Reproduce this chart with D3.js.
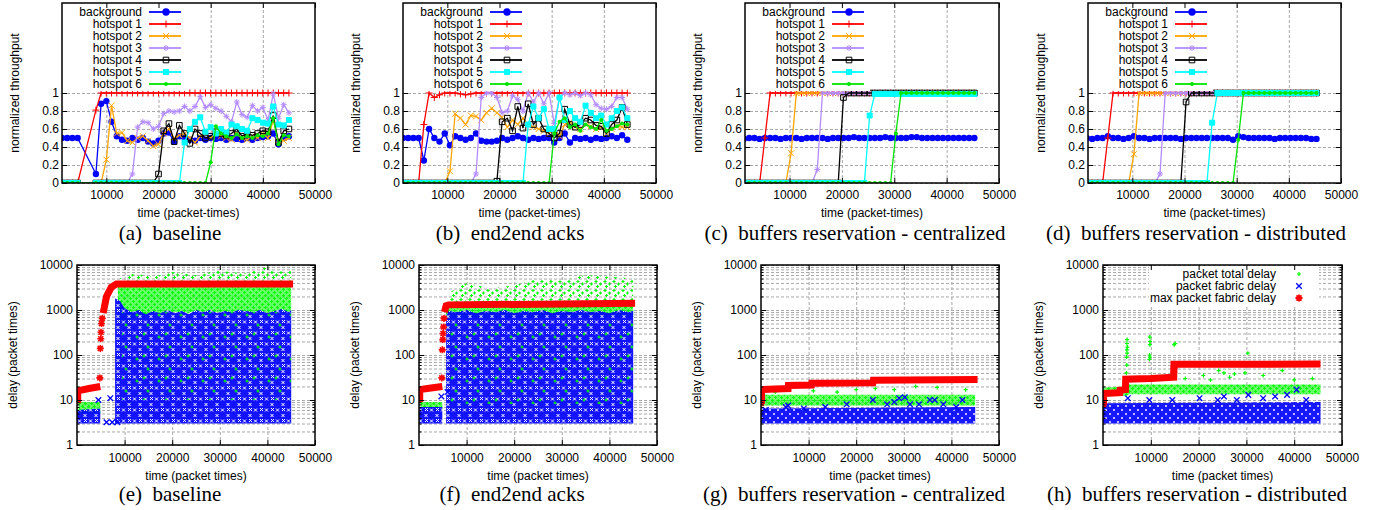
<!DOCTYPE html>
<html>
<head>
<meta charset="utf-8">
<script src="https://cdn.jsdelivr.net/npm/d3@7"></script>
<style>
  body { margin: 0; background: #fff; }
  svg { display: block; }
  .cap { font-family: "Liberation Serif", "Times New Roman", serif; font-size: 21px; white-space: pre; }
</style>
</head>
<body>
<svg id="chart" width="1380" height="510"></svg>
<script>
// ---------------- data ----------------
const X_TICKS = [10000, 20000, 30000, 40000, 50000];
const X_GRID = [10000, 20000, 30000, 40000];
const THR_TICKS = [0, 0.2, 0.4, 0.6, 0.8, 1];
const DELAY_TICKS = [1, 10, 100, 1000, 10000];
const HOT_NAMES = ['background', 'hotspot 1', 'hotspot 2', 'hotspot 3', 'hotspot 4', 'hotspot 5', 'hotspot 6'];
const DELAY_NAMES = ['packet total delay', 'packet fabric delay', 'max packet fabric delay'];
const CAPTIONS = ['(a)  baseline', '(b)  end2end acks', '(c)  buffers reservation - centralized',
  '(d)  buffers reservation - distributed', '(e)  baseline', '(f)  end2end acks',
  '(g)  buffers reservation - centralized', '(h)  buffers reservation - distributed'];

// (a) baseline throughput
const timeA = [1500, 2500, 3500, 4500, 8000, 9000, 10000, 11000, 12000, 13000, 14000, 15000, 16000, 17000,
  18000, 19000, 20000, 21000, 22000, 23000, 24000, 25000, 26000, 27000, 28000, 29000, 30000, 31000, 32000,
  33000, 34000, 35000, 36000, 37000, 38000, 39000, 40000, 41000, 42000, 43000, 44000, 45000];
const bgA = [0.5, 0.5, 0.5, 0.5, 0.1, 0.88, 0.91, 0.68, 0.52, 0.48, 0.47, 0.5, 0.48, 0.5,
  0.46, 0.44, 0.47, 0.55, 0.56, 0.46, 0.52, 0.5, 0.48, 0.47, 0.5, 0.48, 0.5, 0.49, 0.5, 0.48,
  0.5, 0.49, 0.48, 0.5, 0.48, 0.5, 0.51, 0.52, 0.55, 0.43, 0.5, 0.52];
const hs1A = [0, 0, 0, 0, 0.81, 1, 1, 1, 1, 1, 1, 1, 1, 1, 1, 1, 1, 1, 1, 1, 1, 1, 1, 1, 1, 1, 1, 1, 1, 1,
  1, 1, 1, 1, 1, 1, 1, 1, 1, 1, 1, 1];
const hs2A = [0, 0, 0, 0, 0, 0, 0.26, 0.86, 0.55, 0.56, 0.47, 0.45, 0.5, 0.52, 0.47, 0.41,
  0.43, 0.55, 0.6, 0.5, 0.53, 0.55, 0.5, 0.45, 0.52, 0.55, 0.5, 0.55, 0.52, 0.5, 0.48, 0.55, 0.5, 0.48,
  0.52, 0.5, 0.55, 0.5, 0.7, 0.47, 0.47, 0.5];
const hs3A = [0, 0, 0, 0, 0, 0, 0, 0, 0, 0, 0, 0.1, 0.62, 0.68, 0.67, 0.6, 0.63, 0.77, 0.8, 0.79, 0.8, 0.85,
  0.8, 0.85, 0.96, 0.84, 0.87, 0.83, 0.8, 0.74, 0.68, 0.9, 0.76, 0.73, 0.86, 0.8, 0.84, 0.7, 0.99, 0.72,
  0.87, 0.78];
const hs4A = [0, 0, 0, 0, 0, 0, 0, 0, 0, 0, 0, 0, 0, 0, 0, 0, 0.1, 0.58, 0.66, 0.46, 0.64, 0.55, 0.44, 0.6,
  0.55, 0.5, 0.52, 0.57, 0.55, 0.53, 0.55, 0.6, 0.52, 0.55, 0.53, 0.55, 0.58, 0.57, 0.75, 0.45, 0.58, 0.6];
const hs5A = [0, 0, 0, 0, 0, 0, 0, 0, 0, 0, 0, 0, 0, 0, 0, 0, 0, 0, 0, 0, 0, 0.45, 0.6, 0.68, 0.73, 0.57,
  0.62, 0.55, 0.6, 0.56, 0.65, 0.63, 0.6, 0.58, 0.72, 0.7, 0.67, 0.66, 0.85, 0.65, 0.64, 0.7];
const hs6A = [0, 0, 0, 0, 0, 0, 0, 0, 0, 0, 0, 0, 0, 0, 0, 0, 0, 0, 0, 0, 0, 0, 0, 0, 0, 0, 0.23, 0.63,
  0.55, 0.52, 0.5, 0.54, 0.5, 0.52, 0.5, 0.53, 0.52, 0.55, 0.72, 0.43, 0.53, 0.52];

// (b) end2end acks throughput
const timeB = [1500, 2500, 3500, 4500, 5500, 6500, 7500, 8500, 9500, 10500, 11500, 12500, 13500, 14500,
  15500, 16500, 17500, 18500, 19500, 20500, 21500, 22500, 23500, 24500, 25500, 26500, 27500, 28500, 29500,
  30500, 31500, 32500, 33500, 34500, 35500, 36500, 37500, 38500, 39500, 40500, 41500, 42500, 43500, 44500];
const bgB = [0.5, 0.5, 0.5, 0.5, 0.25, 0.6, 0.5, 0.46, 0.55, 0.42, 0.52, 0.5, 0.48, 0.5, 0.55, 0.47, 0.46,
  0.46, 0.47, 0.5, 0.48, 0.5, 0.52, 0.5, 0.48, 0.5, 0.49, 0.5, 0.5, 0.45, 0.5, 0.55, 0.45, 0.5, 0.49, 0.5,
  0.48, 0.5, 0.49, 0.5, 0.52, 0.5, 0.53, 0.48];
const hs1B = [0, 0, 0, 0, 0.65, 1, 0.95, 0.98, 1, 1, 1, 0.99, 0.98, 0.99, 1, 1, 1, 1, 1, 1, 1, 1, 1, 1, 1,
  1, 1, 1, 1, 1, 1, 1, 1, 1, 1, 1, 1, 1, 1, 1, 1, 1, 1, 1];
const hs2B = [0, 0, 0, 0, 0, 0, 0, 0, 0, 0.13, 0.77, 0.72, 0.65, 0.75, 0.74, 0.7, 0.78, 0.83, 0.78, 0.73,
  0.62, 0.7, 0.65, 0.72, 0.65, 0.62, 0.6, 0.58, 0.55, 0.6, 0.52, 0.65, 0.68, 0.62, 0.6, 0.65, 0.63, 0.6,
  0.62, 0.55, 0.6, 0.63, 0.62, 0.62];
const hs3B = [0, 0, 0, 0, 0, 0, 0, 0, 0, 0, 0, 0, 0, 0, 0.1, 0.95, 1, 1, 0.95, 0.78, 0.8, 0.97, 0.93, 0.8,
  1, 0.9, 1, 0.88, 1, 0.66, 0.95, 1, 0.98, 1, 0.97, 1, 0.98, 0.87, 0.83, 0.82, 0.85, 0.95, 0.95, 0.82];
const hs4B = [0, 0, 0, 0, 0, 0, 0, 0, 0, 0, 0, 0, 0, 0, 0, 0, 0, 0, 0.02, 0.68, 0.72, 0.58, 0.85, 0.61,
  0.88, 0.65, 0.72, 0.6, 0.55, 0.5, 0.55, 0.82, 0.65, 0.62, 0.65, 0.72, 0.7, 0.64, 0.63, 0.55, 0.65, 0.7,
  0.84, 0.65];
const hs5B = [0, 0, 0, 0, 0, 0, 0, 0, 0, 0, 0, 0, 0, 0, 0, 0, 0, 0, 0, 0, 0, 0, 0, 0, 0.65, 0.85, 0.72,
  0.82, 0.6, 0.6, 0.95, 0.7, 0.8, 0.72, 0.68, 0.86, 0.78, 0.72, 0.75, 0.65, 0.72, 0.8, 0.84, 0.72];
const hs6B = [0, 0, 0, 0, 0, 0, 0, 0, 0, 0, 0, 0, 0, 0, 0, 0, 0, 0, 0, 0, 0, 0, 0, 0, 0, 0, 0, 0, 0, 0.55,
  0.68, 0.72, 0.62, 0.65, 0.58, 0.65, 0.62, 0.6, 0.7, 0.58, 0.6, 0.63, 0.66, 0.65];

// (c) centralized reservation throughput
const timeC = [1300, 2300, 3300, 4300, 5300, 6300, 7300, 8300, 9300, 10300, 11300, 12300, 13300, 14300,
  15300, 16300, 17300, 18300, 19300, 20300, 21300, 22300, 23300, 24300, 25300, 26300, 27300, 28300, 29300,
  30300, 31300, 32300, 33300, 34300, 35300, 36300, 37300, 38300, 39300, 40300, 41300, 42300, 43300, 44300,
  45300];
const bgC = [0.49, 0.5, 0.5, 0.49, 0.5, 0.5, 0.5, 0.49, 0.5, 0.5, 0.5, 0.49, 0.5, 0.5, 0.5, 0.5, 0.49, 0.5,
  0.5, 0.5, 0.5, 0.51, 0.5, 0.5, 0.5, 0.5, 0.5, 0.51, 0.5, 0.5, 0.5, 0.5, 0.51, 0.51, 0.5, 0.5, 0.5, 0.5,
  0.5, 0.5, 0.5, 0.5, 0.5, 0.5, 0.5];
const hs1C = [0, 0, 0, 0, 0.5, 1, 1, 1, 1, 1, 1, 1, 1, 1, 1, 1, 1, 1, 1, 1, 1, 1, 1, 1, 1, 1, 1, 1, 1, 1,
  1, 1, 1, 1, 1, 1, 1, 1, 1, 1, 1, 1, 1, 1, 1];
const hs2C = [0, 0, 0, 0, 0, 0, 0, 0, 0, 0.33, 1, 1, 1, 1, 1, 1, 1, 1, 1, 1, 1, 1, 1, 1, 1, 1, 1, 1, 1, 1,
  1, 1, 1, 1, 1, 1, 1, 1, 1, 1, 1, 1, 1, 1, 1];
const hs3C = [0, 0, 0, 0, 0, 0, 0, 0, 0, 0, 0, 0, 0, 0, 0.15, 1, 1, 1, 1, 1, 1, 1, 1, 1, 1, 1, 1, 1, 1, 1,
  1, 1, 1, 1, 1, 1, 1, 1, 1, 1, 1, 1, 1, 1, 1];
const hs4C = [0, 0, 0, 0, 0, 0, 0, 0, 0, 0, 0, 0, 0, 0, 0, 0, 0, 0, 0, 0.95, 1, 1, 1, 1, 1, 1, 1, 1, 1, 1,
  1, 1, 1, 1, 1, 1, 1, 1, 1, 1, 1, 1, 1, 1, 1];
const hs5C = [0, 0, 0, 0, 0, 0, 0, 0, 0, 0, 0, 0, 0, 0, 0, 0, 0, 0, 0, 0, 0, 0, 0, 0, 0.75, 0.99, 0.99,
  0.99, 0.99, 0.99, 0.99, 0.99, 0.99, 0.99, 0.99, 0.99, 0.99, 0.99, 0.99, 0.99, 0.99, 0.99, 0.99, 0.99, 0.99];
const hs6C = [0, 0, 0, 0, 0, 0, 0, 0, 0, 0, 0, 0, 0, 0, 0, 0, 0, 0, 0, 0, 0, 0, 0, 0, 0, 0, 0, 0, 0, 0.55,
  1, 1, 1, 1, 1, 1, 1, 1, 1, 1, 1, 1, 1, 1, 1];

// (d) distributed reservation throughput
const timeD = timeC;
const bgD = [0.5, 0.49, 0.5, 0.5, 0.52, 0.5, 0.5, 0.49, 0.5, 0.52, 0.5, 0.5, 0.49, 0.5, 0.5, 0.5, 0.5, 0.5,
  0.49, 0.5, 0.5, 0.5, 0.5, 0.5, 0.5, 0.5, 0.5, 0.5, 0.48, 0.52, 0.51, 0.5, 0.5, 0.5, 0.5, 0.5, 0.49, 0.5,
  0.5, 0.5, 0.5, 0.5, 0.5, 0.49, 0.49];
const hs1D = [0, 0, 0, 0, 0.5, 1, 1, 1, 1, 1, 1, 1, 1, 1, 1, 1, 1, 1, 1, 1, 1, 1, 1, 1, 1, 1, 1, 1, 1, 1,
  1, 1, 1, 1, 1, 1, 1, 1, 1, 1, 1, 1, 1, 1, 1];
const hs2D = [0, 0, 0, 0, 0, 0, 0, 0, 0, 0.32, 1, 1, 1, 1, 1, 1, 1, 1, 1, 1, 1, 1, 1, 1, 1, 1, 1, 1, 1, 1,
  1, 1, 1, 1, 1, 1, 1, 1, 1, 1, 1, 1, 1, 1, 1];
const hs3D = [0, 0, 0, 0, 0, 0, 0, 0, 0, 0, 0, 0, 0, 0, 0.1, 1, 1, 1, 1, 1, 1, 1, 1, 1, 1, 1, 1, 1, 1, 1,
  1, 1, 1, 1, 1, 1, 1, 1, 1, 1, 1, 1, 1, 1, 1];
const hs4D = [0, 0, 0, 0, 0, 0, 0, 0, 0, 0, 0, 0, 0, 0, 0, 0, 0, 0, 0, 0.9, 1, 1, 1, 1, 1, 1, 1, 1, 1, 1,
  1, 1, 1, 1, 1, 1, 1, 1, 1, 1, 1, 1, 1, 1, 1];
const hs5D = [0, 0, 0, 0, 0, 0, 0, 0, 0, 0, 0, 0, 0, 0, 0, 0, 0, 0, 0, 0, 0, 0, 0, 0, 0.67, 1, 1, 1, 1, 1,
  1, 1, 1, 1, 1, 1, 1, 1, 1, 1, 1, 1, 1, 1, 1];
const hs6D = [0, 0, 0, 0, 0, 0, 0, 0, 0, 0, 0, 0, 0, 0, 0, 0, 0, 0, 0, 0, 0, 0, 0, 0, 0, 0, 0, 0, 0, 0.48,
  1, 1, 1, 1, 1, 1, 1, 1, 1, 1, 1, 1, 1, 1, 1];

// delay clouds: bands are [time, low, high]; points are [time, delay]
const delayE_totalDense = [[[300, 5, 9], [4900, 5, 9]],
  [[8600, 500, 3400], [10000, 500, 3400], [12000, 700, 3400], [15000, 800, 3400], [20000, 900, 3400],
    [30000, 900, 3400], [45000, 850, 3400]]];
const delayE_totalSparse = [[[9000, 3400, 5000], [12000, 3400, 6500], [16000, 3400, 5500], [20000, 3400, 7000],
  [25000, 3400, 6000], [30000, 3400, 7500], [35000, 3400, 6500], [40000, 3400, 9000], [42000, 3400, 7000],
  [45000, 3400, 8000]]];
const delayE_totalInside = [[[9500, 10, 900], [45000, 10, 900]]];
const delayE_fabric = [[[0, 3, 6], [4900, 3, 6.5]],
  [[8000, 3, 1800], [9000, 3, 1600], [10000, 3, 1100], [11500, 3, 900], [13000, 3, 1000], [14500, 3, 800],
    [16000, 3, 950], [17500, 3, 850], [19000, 3, 1000], [20500, 3, 850], [22000, 3, 950], [23500, 3, 800],
    [25000, 3, 1000], [26500, 3, 900], [28000, 3, 1000], [29500, 3, 850], [31000, 3, 950], [32500, 3, 900],
    [34000, 3, 1000], [35500, 3, 950], [37000, 3, 900], [38500, 3, 1000], [40000, 3, 850], [41500, 3, 950],
    [43000, 3, 1050], [44500, 3, 900], [45000, 3, 1000]]];
const delayE_fabricPts = [[4500, 10], [6200, 3.2], [7000, 11], [7400, 3.2], [8500, 3.2]];
const delayE_max = [[[150, 8.5], [150, 16], [2500, 18], [4900, 20]],
  [[5500, 850], [6200, 2000], [7200, 3200], [8300, 3800], [45400, 3800]]];
const delayE_maxPts = [[4800, 31], [4900, 140], [5000, 230], [5050, 320], [5150, 500], [5300, 650]];

const delayF_totalDense = [[[300, 6, 9], [4900, 6, 9]], [[5700, 650, 1250], [45000, 700, 1250]]];
const delayF_totalSparse = [[[6500, 1500, 2500], [10000, 1500, 4000], [15000, 1500, 3000], [20000, 1500, 3500],
  [25000, 1500, 5000], [30000, 1500, 4500], [35000, 1500, 6000], [40000, 1500, 5500], [45000, 1500, 5000]]];
const delayF_totalInside = [[[6000, 8, 700], [45000, 8, 700]]];
const delayF_fabric = [[[0, 3, 7], [4900, 3, 7]],
  [[5700, 3, 700], [6200, 3, 950], [8000, 3, 900], [10000, 3, 1000], [12000, 3, 850], [14000, 3, 950],
    [16000, 3, 900], [18000, 3, 1000], [20000, 3, 850], [22000, 3, 950], [24000, 3, 900], [26000, 3, 1000],
    [28000, 3, 850], [30000, 3, 950], [32000, 3, 900], [34000, 3, 1000], [36000, 3, 900], [38000, 3, 950],
    [40000, 3, 850], [42000, 3, 1000], [44000, 3, 900], [45000, 3, 950]]];
const delayF_fabricPts = [[4700, 12], [6000, 15]];
const delayF_max = [[[150, 9], [150, 17], [2500, 18.5], [4900, 20]],
  [[5350, 900], [5700, 1250], [6200, 1300], [25000, 1350], [45400, 1420]]];
const delayF_maxPts = [[4800, 31], [4900, 130], [5000, 220], [5050, 300], [5150, 420], [5250, 650]];

const delayG_total = [[[0, 7.5, 13], [45000, 7.5, 13]]];
const delayG_totalPts = [[3000, 15], [11000, 16], [16000, 15], [20000, 17], [24000, 18], [28000, 17],
  [32500, 20], [37000, 19], [43000, 17]];
const delayG_fabric = [[[0, 3, 6.5], [45000, 3, 7]]];
const delayG_fabricPts = [[1000, 6], [5200, 7], [5700, 7.5], [9000, 6.5], [13500, 7], [18000, 8],
  [23500, 10], [26500, 8], [28000, 9], [29000, 11], [30200, 11.5], [31300, 8], [33200, 8], [35500, 10],
  [36500, 10], [38300, 8], [41000, 7], [42300, 10]];
const delayG_max = [[[100, 8.5], [100, 17], [5700, 18], [5750, 21], [10600, 21.5], [10650, 23.5],
  [23500, 24], [23600, 27.5], [45500, 28.5]]];
const delayG_maxPts = [[100, 8.5], [100, 15]];

const delayH_total = [[[0, 12, 19], [5000, 12.5, 20], [5500, 13.5, 22], [45500, 13.5, 22]]];
const delayH_totalPts = [[4900, 40], [5000, 60], [4950, 90], [5050, 110], [5000, 130], [5100, 150],
  [5000, 180], [5050, 220], [9700, 80], [9800, 90], [9750, 100], [9800, 170], [9850, 200], [9800, 250],
  [14900, 170], [15100, 180], [17200, 30], [21000, 35], [22500, 28], [24200, 45], [25300, 40], [26500, 32],
  [27500, 38], [29700, 40], [30300, 110], [33500, 35], [37500, 45], [40000, 28], [43800, 30]];
const delayH_fabric = [[[0, 3, 8.5], [45500, 3, 9]]];
const delayH_fabricPts = [[5200, 11], [9700, 10], [14500, 10], [20200, 11], [24000, 10], [25300, 12],
  [28000, 10], [30400, 13], [33500, 11], [36000, 12], [38500, 13], [40500, 17], [42500, 10]];
const delayH_max = [[[100, 7.5], [100, 14], [3500, 14.5], [3550, 16.5], [4700, 17], [4750, 29],
  [10000, 30], [14800, 32], [14850, 62], [45500, 63]]];
const delayH_maxPts = [[100, 8], [14800, 42], [14850, 50], [14900, 55]];

// ---------------- styles & layout ----------------
const FONT = '"Liberation Sans", Arial, Helvetica, sans-serif';
const HOT_STYLE = [
  { color: '#0000ff', mark: 'circle', r: 3.2 },
  { color: '#ff0000', mark: 'plus', r: 3.5 },
  { color: '#ffa500', mark: 'cross', r: 3 },
  { color: '#b48cff', mark: 'star', r: 3 },
  { color: '#000000', mark: 'sqOpen', r: 2.8 },
  { color: '#00ffff', mark: 'sqFill', r: 2.5 },
  { color: '#00e600', mark: 'circle', r: 2 }
];
const C_TOTAL = '#00ff00', C_FABRIC = '#0000ff', C_MAX = '#ff0000';
const TOP_PANELS = [
  { x: 62, y: 3, w: 253, h: 180, cap: 170 },
  { x: 403, y: 3, w: 253, h: 180, cap: 510 },
  { x: 745, y: 3, w: 254, h: 180, cap: 855 },
  { x: 1088, y: 3, w: 253, h: 180, cap: 1196 }
];
const BOT_PANELS = [
  { x: 77, y: 265, w: 238, h: 180, cap: 170 },
  { x: 419, y: 265, w: 238, h: 180, cap: 512 },
  { x: 761, y: 265, w: 238, h: 180, cap: 854 },
  { x: 1103, y: 265, w: 239, h: 180, cap: 1197 }
];

const svg = d3.select('#chart');
const defs = svg.append('defs');
let clipN = 0;

function markPath(shape, r) {
  const plus = `M${-r},0H${r}M0,${-r}V${r}`;
  const cross = `M${-r},${-r}L${r},${r}M${-r},${r}L${r},${-r}`;
  const k = r * 0.72;
  if (shape === 'plus') return plus;
  if (shape === 'cross') return cross;
  if (shape === 'star') return plus + `M${-k},${-k}L${k},${k}M${-k},${k}L${k},${-k}`;
  return `M${-r},${-r}H${r}V${r}H${-r}Z`;
}

function drawMarks(g, pts, st, x, y, sw) {
  if (st.mark === 'circle') {
    g.selectAll(null).data(pts).join('circle')
      .attr('cx', d => x(d[0])).attr('cy', d => y(d[1])).attr('r', st.r).attr('fill', st.color);
  } else {
    g.selectAll(null).data(pts).join('path')
      .attr('transform', d => `translate(${x(d[0])},${y(d[1])})`)
      .attr('d', markPath(st.mark, st.r))
      .attr('fill', st.mark === 'sqFill' ? st.color : 'none')
      .attr('stroke', st.color).attr('stroke-width', sw || 1);
  }
}

// textures used to render the dense scatter clouds
function makePattern(id, size, bg, bgOpacity, spots, color, shape, r, sw) {
  const pt = defs.append('pattern').attr('id', id).attr('patternUnits', 'userSpaceOnUse')
    .attr('width', size).attr('height', size);
  if (bg) pt.append('rect').attr('width', size).attr('height', size).attr('fill', bg).attr('fill-opacity', bgOpacity);
  spots.forEach(s => pt.append('path').attr('transform', `translate(${s[0]},${s[1]})`)
    .attr('d', markPath(shape, r)).attr('fill', 'none').attr('stroke', color).attr('stroke-width', sw));
}
makePattern('pFab', 8, C_FABRIC, 0.9, [[2, 2], [6, 6]], '#fff', 'cross', 1, 0.7);
makePattern('pFabE', 11, C_FABRIC, 0.92, [[2.5, 3], [8, 8.5], [8.5, 2.5]], '#fff', 'cross', 1.5, 1);
makePattern('pTot', 6, C_TOTAL, 0.6, [[1.5, 1.5], [4.5, 4.5]], C_TOTAL, 'plus', 1.5, 1.1);
makePattern('pTotS', 9, null, 0, [[2, 2.5], [6.5, 5], [3.5, 7.5]], C_TOTAL, 'plus', 1.6, 1.2);
makePattern('pTotIn', 22, null, 0, [[5, 7], [16, 17], [12, 4]], C_TOTAL, 'plus', 1.6, 1.2);

function clipFor(p) {
  const id = 'clip' + (clipN++);
  defs.append('clipPath').attr('id', id).append('rect')
    .attr('x', p.x).attr('y', p.y).attr('width', p.w).attr('height', p.h);
  return `url(#${id})`;
}

function drawGrid(g, p, x, y, yVals) {
  const grid = g.append('g');
  grid.append('g').attr('transform', `translate(${p.x},0)`)
    .call(d3.axisLeft(y).tickValues(yVals).tickSize(-p.w).tickFormat(''));
  grid.append('g').attr('transform', `translate(0,${p.y + p.h})`)
    .call(d3.axisBottom(x).tickValues(X_GRID).tickSize(-p.h).tickFormat(''));
  grid.selectAll('.domain').remove();
  grid.selectAll('line').attr('stroke', '#a8a8a8').attr('stroke-dasharray', '3,2');
}

function drawFrame(g, p, x, y, yVals, yMinor, yPad, xPad, xLabel, yLabel, yLabOff, caption, capY) {
  const t = g.append('g');
  const ticks = (sel, axis, vals, size) => sel.call(axis.tickValues(vals).tickSize(size).tickFormat(''));
  ticks(t.append('g').attr('transform', `translate(${p.x},0)`), d3.axisLeft(y), yVals, -5);
  ticks(t.append('g').attr('transform', `translate(${p.x + p.w},0)`), d3.axisRight(y), yVals, -5);
  if (yMinor) {
    ticks(t.append('g').attr('transform', `translate(${p.x},0)`), d3.axisLeft(y), yMinor, -2.5);
    ticks(t.append('g').attr('transform', `translate(${p.x + p.w},0)`), d3.axisRight(y), yMinor, -2.5);
  }
  ticks(t.append('g').attr('transform', `translate(0,${p.y + p.h})`), d3.axisBottom(x), X_TICKS, -5);
  ticks(t.append('g').attr('transform', `translate(0,${p.y})`), d3.axisTop(x), X_TICKS, -5);
  t.selectAll('.domain').remove();
  t.selectAll('line').attr('stroke', '#000');

  g.append('rect').attr('x', p.x).attr('y', p.y).attr('width', p.w).attr('height', p.h)
    .attr('fill', 'none').attr('stroke', '#000').attr('stroke-width', 1.5);

  const bx = g.append('g').attr('transform', `translate(0,${p.y + p.h})`)
    .call(d3.axisBottom(x).tickValues(X_TICKS).tickSize(0).tickPadding(xPad).tickFormat(d => String(d)));
  const ly = g.append('g').attr('transform', `translate(${p.x},0)`)
    .call(d3.axisLeft(y).tickValues(yVals).tickSize(0).tickPadding(yPad).tickFormat(d => String(d)));
  [bx, ly].forEach(a => {
    a.attr('font-size', 12).attr('font-family', FONT);
    a.select('.domain').remove();
    a.selectAll('text').attr('fill', '#000');
  });

  g.append('text').attr('x', p.x + p.w / 2).attr('y', p.y + p.h + xPad + 26)
    .attr('text-anchor', 'middle').attr('font-family', FONT).attr('font-size', 12).text(xLabel);
  g.append('text')
    .attr('transform', `translate(${p.x - yLabOff},${p.y + p.h / 2}) rotate(-90)`)
    .attr('text-anchor', 'middle').attr('dy', '0.35em')
    .attr('font-family', FONT).attr('font-size', 12).text(yLabel);
  g.append('text').attr('class', 'cap').attr('x', p.cap).attr('y', capY)
    .attr('text-anchor', 'middle').text(caption);
}

function drawThroughput(p, time, series, caption) {
  const g = svg.append('g');
  const x = d3.scaleLinear().domain([1500, 50000]).range([p.x, p.x + p.w]);
  const y = d3.scaleLinear().domain([0, 2]).range([p.y + p.h, p.y]);
  drawGrid(g, p, x, y, THR_TICKS);

  const data = g.append('g').attr('clip-path', clipFor(p));
  const line = d3.line().x(d => x(d[0])).y(d => y(d[1]));
  series.forEach((vals, i) => {
    const st = HOT_STYLE[i];
    const pts = time.map((t, j) => [t, vals[j]]);
    data.append('path').datum(pts).attr('d', line)
      .attr('fill', 'none').attr('stroke', st.color).attr('stroke-width', 1.3);
    drawMarks(data.append('g'), pts, st, x, y);
  });

  // opaque key
  const key = g.append('g');
  key.append('rect').attr('x', p.x + 1).attr('y', p.y + 1).attr('width', 124).attr('height', 87)
    .attr('fill', '#fff');
  HOT_NAMES.forEach((name, i) => {
    const st = HOT_STYLE[i];
    const ky = p.y + 9 + i * 12;
    key.append('text').attr('x', p.x + 80).attr('y', ky).attr('dy', '0.35em')
      .attr('text-anchor', 'end').attr('font-family', FONT).attr('font-size', 12).text(name);
    key.append('line').attr('x1', p.x + 87).attr('x2', p.x + 119).attr('y1', ky).attr('y2', ky)
      .attr('stroke', st.color).attr('stroke-width', 1.8);
    const kst = Object.assign({}, st, { r: st.r * (i === 0 ? 1.15 : 1) });
    drawMarks(key.append('g'), [[0, 0]], kst, () => p.x + 104, () => ky);
  });

  drawFrame(g, p, x, y, THR_TICKS, null, 3, 7.5, 'time (packet-times)', 'normalized throughput', 47,
    caption, 240);
}

function drawDelay(p, d, caption, withKey) {
  const g = svg.append('g');
  const x = d3.scaleLinear().domain([0, 50000]).range([p.x, p.x + p.w]);
  const y = d3.scaleLog().domain([1, 10000]).range([p.y + p.h, p.y]);
  const minor = y.ticks().filter(v => !DELAY_TICKS.includes(v));
  drawGrid(g, p, x, y, y.ticks());

  const data = g.append('g').attr('clip-path', clipFor(p));
  const band = d3.area().x(b => x(b[0])).y0(b => y(b[1])).y1(b => y(b[2]));
  const line = d3.line().x(b => x(b[0])).y(b => y(b[1]));
  const bands = (list, fill) => (list || []).forEach(b =>
    data.append('path').datum(b).attr('d', band).attr('fill', fill));

  bands(d.totalSparse, 'url(#pTotS)');
  bands(d.total, 'url(#pTot)');
  drawMarks(data.append('g'), d.totalPts || [], { mark: 'plus', color: C_TOTAL, r: 2 }, x, y, 1.2);
  bands(d.fabric, d.fabricFill);
  bands(d.totalInside, 'url(#pTotIn)');
  drawMarks(data.append('g'), d.fabricPts || [], { mark: 'cross', color: C_FABRIC, r: 2.8 }, x, y, 1.3);
  d.max.forEach(m => data.append('path').datum(m).attr('d', line)
    .attr('fill', 'none').attr('stroke', C_MAX).attr('stroke-width', 7));
  drawMarks(data.append('g'), d.maxPts || [], { mark: 'star', color: C_MAX, r: 3.5 }, x, y, 1.6);

  if (withKey) {
    const key = g.append('g');
    key.append('rect').attr('x', p.x + 46).attr('y', p.y + 1).attr('width', 170).attr('height', 39)
      .attr('fill', '#fff');
    const kst = [{ mark: 'plus', color: C_TOTAL, r: 2, sw: 1.2 }, { mark: 'cross', color: C_FABRIC, r: 2.8, sw: 1.3 },
      { mark: 'star', color: C_MAX, r: 3.5, sw: 1.8 }];
    DELAY_NAMES.forEach((name, i) => {
      const ky = p.y + 9 + i * 12;
      key.append('text').attr('x', p.x + 173).attr('y', ky).attr('dy', '0.35em')
        .attr('text-anchor', 'end').attr('font-family', FONT).attr('font-size', 12).text(name);
      drawMarks(key.append('g'), [[0, 0]], kst[i], () => p.x + 196, () => ky, kst[i].sw);
    });
  }

  drawFrame(g, p, x, y, DELAY_TICKS, minor, 4, 8.5, 'time (packet times)', 'delay (packet times)', 64,
    caption, 501);
}

drawThroughput(TOP_PANELS[0], timeA, [bgA, hs1A, hs2A, hs3A, hs4A, hs5A, hs6A], CAPTIONS[0]);
drawThroughput(TOP_PANELS[1], timeB, [bgB, hs1B, hs2B, hs3B, hs4B, hs5B, hs6B], CAPTIONS[1]);
drawThroughput(TOP_PANELS[2], timeC, [bgC, hs1C, hs2C, hs3C, hs4C, hs5C, hs6C], CAPTIONS[2]);
drawThroughput(TOP_PANELS[3], timeD, [bgD, hs1D, hs2D, hs3D, hs4D, hs5D, hs6D], CAPTIONS[3]);

drawDelay(BOT_PANELS[0], { total: delayE_totalDense, totalSparse: delayE_totalSparse, totalInside: delayE_totalInside,
  fabric: delayE_fabric, fabricFill: 'url(#pFabE)', fabricPts: delayE_fabricPts, max: delayE_max,
  maxPts: delayE_maxPts }, CAPTIONS[4], false);
drawDelay(BOT_PANELS[1], { total: delayF_totalDense, totalSparse: delayF_totalSparse, totalInside: delayF_totalInside,
  fabric: delayF_fabric, fabricFill: 'url(#pFabE)', fabricPts: delayF_fabricPts, max: delayF_max,
  maxPts: delayF_maxPts }, CAPTIONS[5], false);
drawDelay(BOT_PANELS[2], { total: delayG_total, totalPts: delayG_totalPts,
  fabric: delayG_fabric, fabricFill: 'url(#pFab)', fabricPts: delayG_fabricPts, max: delayG_max,
  maxPts: delayG_maxPts }, CAPTIONS[6], false);
drawDelay(BOT_PANELS[3], { total: delayH_total, totalPts: delayH_totalPts,
  fabric: delayH_fabric, fabricFill: 'url(#pFab)', fabricPts: delayH_fabricPts, max: delayH_max,
  maxPts: delayH_maxPts }, CAPTIONS[7], true);
</script>
</body>
</html>
